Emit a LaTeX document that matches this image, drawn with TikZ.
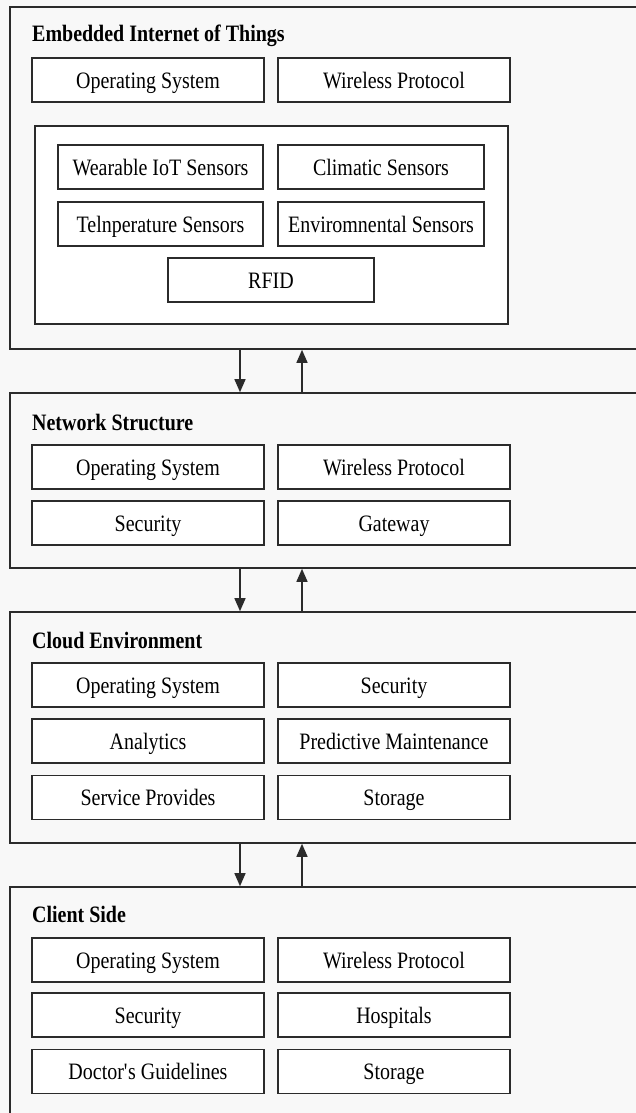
\documentclass[tikz,border=0pt]{standalone}
\usepackage{fontspec}
\setmainfont{Liberation Serif}[FakeStretch=0.85]
\usetikzlibrary{arrows.meta}
\definecolor{ln}{HTML}{2B2B2B}
\definecolor{bg}{HTML}{F8F8F8}
\tikzset{
  layer/.style={draw=ln, line width=1.6pt, fill=bg, rectangle, inner sep=0pt},
  cell/.style={draw=ln, line width=1.4pt, fill=white, rectangle, inner sep=0pt,
    minimum width=232pt, minimum height=44pt, text height=17pt, text depth=0.4pt,
    font=\fontsize{23.5}{26}\selectfont},
  sens/.style={cell, minimum width=206pt},
  ttl/.style={anchor=base west, inner sep=0pt, font=\fontsize{23.5}{26}\selectfont\bfseries},
  arr/.style={draw=ln, line width=1.4pt, -{Triangle[length=13pt,width=11pt]}}
}
\begin{document}
\begin{tikzpicture}[x=1pt,y=-1pt]
\useasboundingbox (0,0) rectangle (636,1113);
\clip (0,0) rectangle (636,1113);
\fill[bg] (0,0) rectangle (636,1113);
% layer boxes
\node[layer, minimum width=636pt, minimum height=342pt] (L1) at (328,178) {};
\node[layer, minimum width=636pt, minimum height=175pt] (L2) at (328,480.5) {};
\node[layer, minimum width=636pt, minimum height=231pt] (L3) at (328,727.5) {};
\node[layer, minimum width=636pt, minimum height=240pt] (L4) at (328,1007) {};
% arrow columns
\coordinate (dn) at (240,0);
\coordinate (up) at (302,0);
% layer 1
\node[ttl] (t1) at (32,42) {Embedded Internet of Things};
\node[cell] (a1) at (148,80) {Operating System};
\node[cell] (a2) at (394,80) {Wireless Protocol};
\node[draw=ln, line width=1.4pt, fill=white, minimum width=473pt, minimum height=198pt, inner sep=0pt] (inner) at (271.5,225) {};
\node[sens, minimum width=205pt] (s1) at (160.5,167) {Wearable IoT Sensors};
\node[sens] (s2) at (381,167) {Climatic Sensors};
\node[sens, minimum width=205pt] (s3) at (160.5,224) {Telnperature Sensors};
\node[sens] (s4) at (381,224) {Enviromnental Sensors};
\node[sens] (s5) at (271,280) {RFID};
% layer 2
\node[ttl] (t2) at (32,430) {Network Structure};
\node[cell] (b1) at (148,467) {Operating System};
\node[cell] (b2) at (394,467) {Wireless Protocol};
\node[cell] (b3) at (148,523) {Security};
\node[cell] (b4) at (394,523) {Gateway};
% layer 3
\node[ttl] (t3) at (32,648) {Cloud Environment};
\node[cell] (c1) at (148,685) {Operating System};
\node[cell] (c2) at (394,685) {Security};
\node[cell] (c3) at (148,741) {Analytics};
\node[cell] (c4) at (394,741) {Predictive Maintenance};
\node[cell] (c5) at (148,797.5) {Service Provides};
\node[cell] (c6) at (394,797.5) {Storage};
% layer 4
\node[ttl] (t4) at (32,922) {Client Side};
\node[cell] (d1) at (148,960) {Operating System};
\node[cell] (d2) at (394,960) {Wireless Protocol};
\node[cell] (d3) at (148,1015) {Security};
\node[cell] (d4) at (394,1015) {Hospitals};
\node[cell] (d5) at (148,1071.5) {Doctor\textquotesingle s Guidelines};
\node[cell] (d6) at (394,1071.5) {Storage};
% arrows
\draw[arr] (L1.south -| dn) -- (L2.north -| dn);
\draw[arr] (L2.north -| up) -- (L1.south -| up);
\draw[arr] (L2.south -| dn) -- (L3.north -| dn);
\draw[arr] (L3.north -| up) -- (L2.south -| up);
\draw[arr] (L3.south -| dn) -- (L4.north -| dn);
\draw[arr] (L4.north -| up) -- (L3.south -| up);
\end{tikzpicture}
\end{document}
